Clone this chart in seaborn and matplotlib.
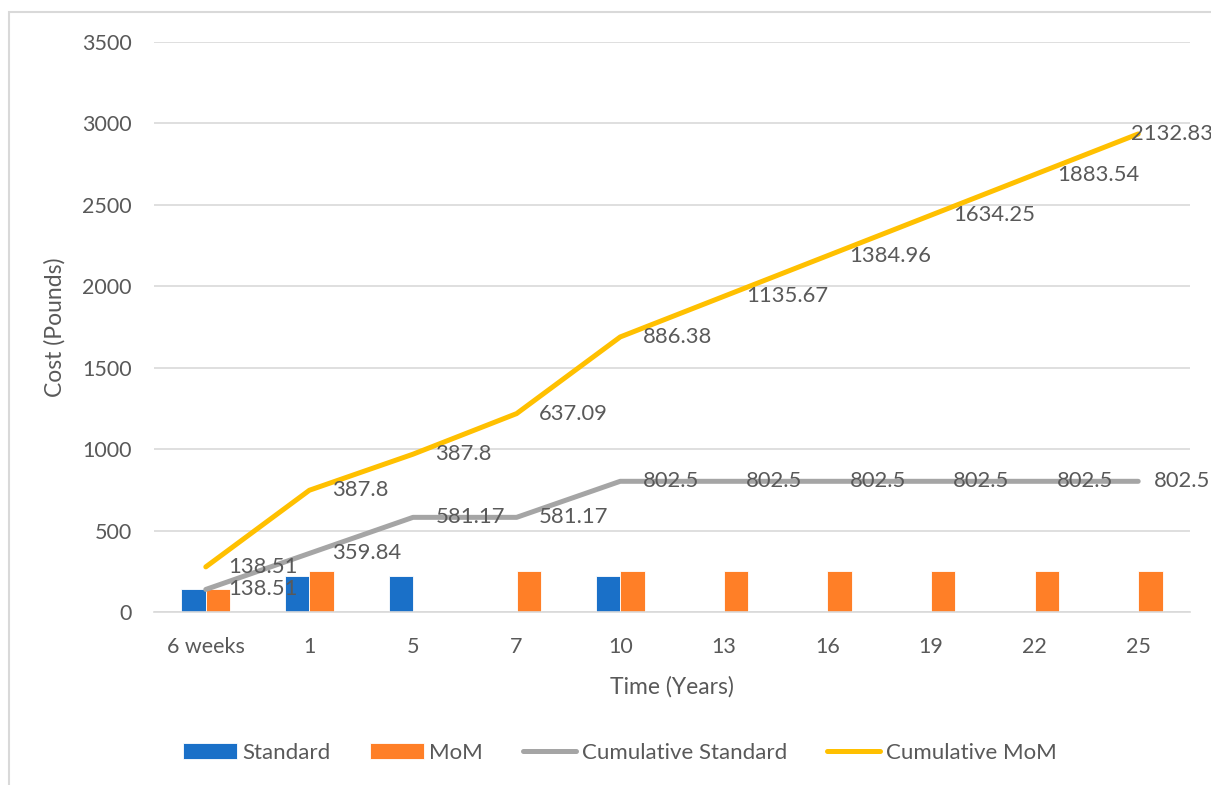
import matplotlib
matplotlib.use("Agg")
import matplotlib.pyplot as plt
from matplotlib.patches import Rectangle
import numpy as np
import pandas as pd
import seaborn as sns

# Categories on the time axis
time_labels = ["6 weeks", "1", "5", "7", "10", "13", "16", "19", "22", "25"]

# Cost incurred at each time point
standard_cost = [138.51, 221.33, 221.33, 0, 221.33, 0, 0, 0, 0, 0]
mom_cost = [138.51, 249.29, 0, 249.29, 249.29, 249.29, 249.29, 249.29, 249.29, 249.29]

# Running totals (the MoM line is stacked on top of the standard line)
cumulative_standard = [138.51, 359.84, 581.17, 581.17, 802.5, 802.5, 802.5, 802.5, 802.5, 802.5]
cumulative_mom = [138.51, 387.8, 387.8, 637.09, 886.38, 1135.67, 1384.96, 1634.25, 1883.54, 2132.83]

BLUE = "#1A70C8"
ORANGE = "#FF7F27"
GREY = "#A5A5A5"
YELLOW = "#FFC000"
TEXT = "#595959"
GRID = "#D9D9D9"

sns.set_theme(style="white")
plt.rcParams["font.family"] = ["Lato", "DejaVu Sans"]

fig = plt.figure(figsize=(12.11, 7.85), dpi=100)
ax = fig.add_axes([154 / 1211, 1 - 612 / 785, (1190 - 154) / 1211, (612 - 42) / 785])

bars = pd.DataFrame({
    "Time": time_labels * 2,
    "Series": ["Standard"] * len(time_labels) + ["MoM"] * len(time_labels),
    "Cost": standard_cost + mom_cost,
})
sns.barplot(data=bars, x="Time", y="Cost", hue="Series", order=time_labels,
            hue_order=["Standard", "MoM"],
            palette={"Standard": BLUE, "MoM": ORANGE},
            width=0.47, gap=0, edgecolor="white", linewidth=0.6,
            saturation=1, ax=ax, zorder=2)

pos = np.arange(len(time_labels))
stacked_mom = np.array(cumulative_standard) + np.array(cumulative_mom)

sns.lineplot(x=pos, y=cumulative_standard, color=GREY, linewidth=3.6,
             label="Cumulative Standard", ax=ax, zorder=3,
             solid_capstyle="round", solid_joinstyle="round")
sns.lineplot(x=pos, y=stacked_mom, color=YELLOW, linewidth=3.6,
             label="Cumulative MoM", ax=ax, zorder=4,
             solid_capstyle="round", solid_joinstyle="round")

LABEL_SIZE = 15.8
last = len(time_labels) - 1

# Data labels to the right of each point (the last ones are pulled in to stay inside the chart)
for i, v in enumerate(cumulative_standard):
    dx = 16 if i < last else 11
    ax.annotate(f"{v:g}", (pos[i], v), xytext=(dx, 0), textcoords="offset points",
                ha="left", va="center", fontsize=LABEL_SIZE, color=TEXT, zorder=5,
                annotation_clip=False)
for i, v in enumerate(cumulative_mom):
    dx = 16 if i < last else -5
    ax.annotate(f"{v:g}", (pos[i], stacked_mom[i]), xytext=(dx, 0),
                textcoords="offset points", ha="left", va="center",
                fontsize=LABEL_SIZE, color=TEXT, zorder=5, annotation_clip=False)

ax.set_xlim(-0.5, len(time_labels) - 0.5)
ax.set_ylim(0, 3500)
ax.set_yticks(np.arange(0, 3501, 500))
ax.set_xticks(pos)
ax.set_xticklabels(time_labels)
ax.tick_params(axis="both", length=0, labelsize=15.5, labelcolor=TEXT)
ax.tick_params(axis="y", pad=16)
ax.tick_params(axis="x", pad=18)
ax.yaxis.grid(True, color=GRID, linewidth=1.2)
ax.set_axisbelow(True)
for side in ["top", "right", "left"]:
    ax.spines[side].set_visible(False)
ax.spines["bottom"].set_color(GRID)
ax.spines["bottom"].set_linewidth(1.2)

ax.set_xlabel("Time (Years)", fontsize=16.5, color=TEXT, labelpad=14)
ax.set_ylabel("Cost (Pounds)", fontsize=16.5, color=TEXT, labelpad=12)

handles, labels = ax.get_legend_handles_labels()
ax.get_legend().remove()
order = ["Standard", "MoM", "Cumulative Standard", "Cumulative MoM"]
hmap = dict(zip(labels, handles))
fig.legend([hmap[k] for k in order], order, loc="center",
           bbox_to_anchor=(620 / 1211, 1 - 753 / 785), ncol=4, frameon=False,
           fontsize=16, labelcolor=TEXT, handlelength=2.4, handletextpad=0.25,
           columnspacing=1.8)

# Light outer frame of the chart area
fig.patches.append(Rectangle((9 / 1211, -0.1), 1.2, 1 - 12 / 785 + 0.1,
                             transform=fig.transFigure, fill=False,
                             edgecolor=GRID, linewidth=1.5))

fig.savefig("out.png", dpi=100, facecolor="white")
